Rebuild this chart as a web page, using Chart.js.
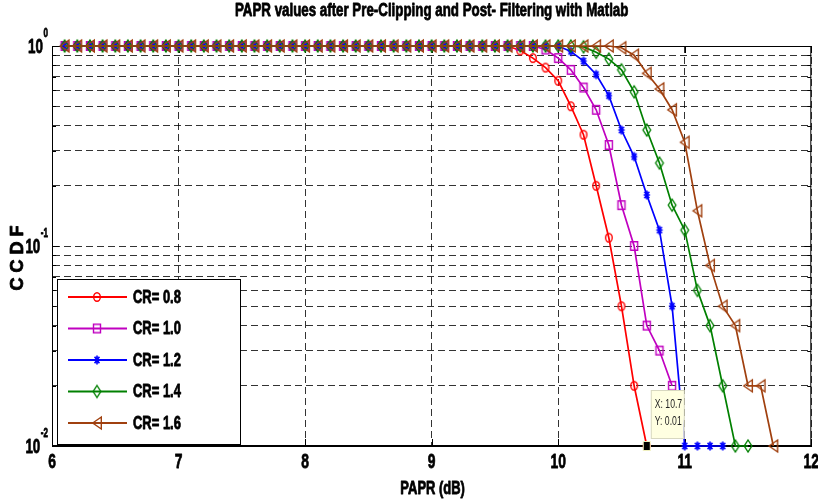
<!DOCTYPE html>
<html>
<head>
<meta charset="utf-8">
<script src="https://cdn.jsdelivr.net/npm/chart.js@4.4.1/dist/chart.umd.min.js"></script>
<style>
  html, body { margin: 0; padding: 0; background: #fff; }
  #wrap { width: 818px; height: 499px; }
</style>
</head>
<body>
<div id="wrap"><canvas id="papr" width="818" height="499"></canvas></div>
<script>
const FONT = '"Liberation Sans", Arial, sans-serif';

// x values (PAPR in dB), one per point
const paprDb = [
  6.1, 6.2, 6.3, 6.4, 6.5, 6.6, 6.7, 6.8, 6.9, 7.0,
  7.1, 7.2, 7.3, 7.4, 7.5, 7.6, 7.7, 7.8, 7.9, 8.0,
  8.1, 8.2, 8.3, 8.4, 8.5, 8.6, 8.7, 8.8, 8.9, 9.0,
  9.1, 9.2, 9.3, 9.4, 9.5, 9.6, 9.7, 9.8, 9.9, 10.0,
  10.1, 10.2, 10.3, 10.4, 10.5, 10.6, 10.7, 10.8, 10.9, 11.0,
  11.1, 11.2, 11.3, 11.4, 11.5, 11.6, 11.7
];

const seriesLabels = ['CR= 0.8', 'CR= 1.0', 'CR= 1.2', 'CR= 1.4', 'CR= 1.6'];
const seriesColors = ['#ff0000', '#c000c0', '#0000ff', '#008000', '#a0400f'];
const seriesMarkers = ['circle', 'square', 'star', 'diamond', 'triangle'];

// CCDF values, starting at 6.1 dB
const cr08 = [
  1, 1, 1, 1, 1, 1, 1, 1, 1, 1,
  1, 1, 1, 1, 1, 1, 1, 1, 1, 1,
  1, 1, 1, 1, 1, 1, 1, 1, 1, 1,
  1, 1, 1, 1, 1, 1, 0.95, 0.87, 0.78, 0.67,
  0.50, 0.36, 0.20, 0.11, 0.05, 0.02, 0.01
];
const cr10 = [
  1, 1, 1, 1, 1, 1, 1, 1, 1, 1,
  1, 1, 1, 1, 1, 1, 1, 1, 1, 1,
  1, 1, 1, 1, 1, 1, 1, 1, 1, 1,
  1, 1, 1, 1, 1, 1, 1, 1, 0.96, 0.87,
  0.76, 0.62, 0.48, 0.32, 0.16, 0.10, 0.04, 0.03, 0.02
];
const cr12 = [
  1, 1, 1, 1, 1, 1, 1, 1, 1, 1,
  1, 1, 1, 1, 1, 1, 1, 1, 1, 1,
  1, 1, 1, 1, 1, 1, 1, 1, 1, 1,
  1, 1, 1, 1, 1, 1, 1, 1, 1, 1,
  0.94, 0.84, 0.72, 0.565, 0.38, 0.28, 0.18, 0.12, 0.05, 0.01,
  0.01, 0.01, 0.01
];
const cr14 = [
  1, 1, 1, 1, 1, 1, 1, 1, 1, 1,
  1, 1, 1, 1, 1, 1, 1, 1, 1, 1,
  1, 1, 1, 1, 1, 1, 1, 1, 1, 1,
  1, 1, 1, 1, 1, 1, 1, 1, 1, 1,
  1, 0.99, 0.93, 0.86, 0.76, 0.59, 0.38, 0.26, 0.16, 0.12,
  0.06, 0.04, 0.02, 0.01, 0.01
];
const cr16 = [
  1, 1, 1, 1, 1, 1, 1, 1, 1, 1,
  1, 1, 1, 1, 1, 1, 1, 1, 1, 1,
  1, 1, 1, 1, 1, 1, 1, 1, 1, 1,
  1, 1, 1, 1, 1, 1, 1, 1, 1, 1,
  1, 1, 1, 1, 0.98, 0.90, 0.73, 0.61, 0.48, 0.33,
  0.15, 0.08, 0.05, 0.04, 0.02, 0.02, 0.01
];

const xTickValues = [6, 7, 8, 9, 10, 11, 12];
const yTickValues = [
  0.01, 0.02, 0.03, 0.04, 0.05, 0.06, 0.07, 0.08, 0.09,
  0.1, 0.2, 0.3, 0.4, 0.5, 0.6, 0.7, 0.8, 0.9, 1
];
const yMajorTicks = [1, 0.1, 0.01];
const yMajorExp = ['0', '-1', '-2'];

const chartTitle = 'PAPR values after Pre-Clipping and Post- Filtering with Matlab';
const xTitle = 'PAPR (dB)';
const yTitle = 'C C D F';

// data tip shown on the CR= 0.8 curve
const tipX = 10.7;
const tipY = 0.01;

// Matlab style open markers, a bit taller than wide like the stretched figure
function makeMarker(kind, color) {
  const c = document.createElement('canvas');
  c.width = 14; c.height = 16;
  const g = c.getContext('2d');
  const cx = 7, cy = 8;
  g.strokeStyle = color;
  g.lineWidth = 1.4;
  g.beginPath();
  if (kind === 'circle') {
    g.ellipse(cx, cy, 3.3, 4.3, 0, 0, Math.PI * 2);
  } else if (kind === 'square') {
    g.rect(cx - 3.5, cy - 4.3, 7, 8.6);
  } else if (kind === 'star') {
    g.lineWidth = 1.6;
    g.moveTo(cx, cy - 4.5); g.lineTo(cx, cy + 4.5);
    g.moveTo(cx - 3.2, cy); g.lineTo(cx + 3.2, cy);
    g.moveTo(cx - 2.4, cy - 3.2); g.lineTo(cx + 2.4, cy + 3.2);
    g.moveTo(cx + 2.4, cy - 3.2); g.lineTo(cx - 2.4, cy + 3.2);
  } else if (kind === 'diamond') {
    g.moveTo(cx, cy - 6); g.lineTo(cx + 3.8, cy);
    g.lineTo(cx, cy + 6); g.lineTo(cx - 3.8, cy);
    g.closePath();
  } else if (kind === 'triangle') {
    g.moveTo(cx - 4.3, cy); g.lineTo(cx + 4.3, cy - 6);
    g.lineTo(cx + 4.3, cy + 6);
    g.closePath();
  }
  g.stroke();
  return c;
}

// condensed bold text, like the Arial Narrow of the figure
function narrowText(ctx, text, x, y, size, align, opts) {
  const o = opts || {};
  const sx = o.sx || 0.72;
  const weight = o.weight || 'bold';
  ctx.save();
  ctx.translate(x, y);
  if (o.rotate) ctx.rotate(o.rotate);
  ctx.scale(sx, 1);
  ctx.font = weight + ' ' + size + 'px ' + FONT;
  ctx.fillStyle = o.color || '#000';
  ctx.strokeStyle = o.color || '#000';
  ctx.textAlign = align;
  ctx.textBaseline = 'middle';
  ctx.fillText(text, 0, 0);
  if (weight === 'bold') {
    ctx.lineWidth = 0.8;
    ctx.lineJoin = 'round';
    ctx.strokeText(text, 0, 0);
  }
  const w = ctx.measureText(text).width * sx;
  ctx.restore();
  return w;
}

function makeSet(i, values) {
  return {
    label: seriesLabels[i],
    data: values.map((v, k) => ({ x: paprDb[k], y: v })),
    borderColor: seriesColors[i],
    backgroundColor: 'rgba(0,0,0,0)',
    borderWidth: 1.7,
    pointStyle: makeMarker(seriesMarkers[i], seriesColors[i]),
    pointRadius: 5,
    tension: 0,
    clip: false,
    order: 5 - i
  };
}

const matlabFrame = {
  id: 'matlabFrame',
  beforeDatasetsDraw(chart) {
    const { ctx, chartArea: ca, scales } = chart;
    ctx.save();
    ctx.strokeStyle = '#000';
    ctx.lineWidth = 1;
    ctx.strokeRect(ca.left + 0.5, ca.top + 0.5, ca.right - ca.left - 1, ca.bottom - ca.top - 1);
    ctx.beginPath();
    xTickValues.forEach(v => {
      const x = Math.round(scales.x.getPixelForValue(v)) + 0.5;
      ctx.moveTo(x, ca.bottom); ctx.lineTo(x, ca.bottom - 7);
      ctx.moveTo(x, ca.top); ctx.lineTo(x, ca.top + 7);
    });
    yTickValues.forEach(v => {
      const y = Math.round(scales.y.getPixelForValue(v)) + 0.5;
      const len = yMajorTicks.includes(v) ? 7 : 4;
      ctx.moveTo(ca.left, y); ctx.lineTo(ca.left + len, y);
      ctx.moveTo(ca.right, y); ctx.lineTo(ca.right - len, y);
    });
    ctx.stroke();
    ctx.restore();
  },
  afterDraw(chart) {
    const { ctx, chartArea: ca, scales } = chart;
    const midX = (ca.left + ca.right) / 2;

    // titles
    narrowText(ctx, chartTitle, midX, 11, 18, 'center', { sx: 0.74 });
    narrowText(ctx, xTitle, midX + 1, ca.bottom + 43, 18, 'center');
    narrowText(ctx, yTitle, 18.5, (ca.top + ca.bottom) / 2 + 12, 18, 'center', { rotate: -Math.PI / 2, sx: 1 });

    // x tick labels
    xTickValues.forEach(v => {
      narrowText(ctx, String(v), scales.x.getPixelForValue(v), ca.bottom + 16, 21, 'center', { sx: 0.66 });
    });

    // y tick labels as powers of ten
    yMajorTicks.forEach((v, i) => {
      const y = scales.y.getPixelForValue(v);
      const ex = ca.left - 4;
      const w = narrowText(ctx, yMajorExp[i], ex, y - 13, 13, 'right', { sx: 0.62 });
      narrowText(ctx, '10', ex - w - 0.5, y + 1, 21, 'right', { sx: 0.64 });
    });

    ctx.save();
    // legend box
    const bx = ca.left + 5, by = ca.bottom - 167, bw = 183, bh = 165;
    ctx.fillStyle = '#fff';
    ctx.fillRect(bx, by, bw, bh);
    ctx.strokeStyle = '#000';
    ctx.lineWidth = 1;
    ctx.strokeRect(bx + 0.5, by + 0.5, bw, bh);
    chart.data.datasets.forEach((ds, i) => {
      const y = by + 18 + i * 31.5;
      ctx.strokeStyle = ds.borderColor;
      ctx.lineWidth = 2;
      ctx.beginPath();
      ctx.moveTo(bx + 11, y); ctx.lineTo(bx + 70, y);
      ctx.stroke();
      const m = ds.pointStyle;
      ctx.drawImage(m, bx + 40 - m.width / 2, y - m.height / 2);
      narrowText(ctx, ds.label, bx + 76, y + 1, 18, 'left');
    });

    // data tip
    const px = scales.x.getPixelForValue(tipX);
    const py = scales.y.getPixelForValue(tipY);
    const tx = px + 4, ty = py - 56;
    ctx.fillStyle = '#ffffe1';
    ctx.fillRect(tx, ty, 33, 48);
    ctx.strokeStyle = '#d8d8c0';
    ctx.lineWidth = 1;
    ctx.strokeRect(tx + 0.5, ty + 0.5, 33, 48);
    narrowText(ctx, 'X: ' + tipX, tx + 4, ty + 15, 12, 'left', { weight: 'normal', color: '#222' });
    narrowText(ctx, 'Y: ' + tipY.toFixed(2), tx + 4, ty + 32, 12, 'left', { weight: 'normal', color: '#222' });
    ctx.fillStyle = '#f0f0c0';
    ctx.fillRect(px - 4, py - 5, 8, 10);
    ctx.fillStyle = '#000';
    ctx.fillRect(px - 3, py - 4, 6, 8);
    ctx.restore();
  }
};

const gridStyle = { color: 'rgba(0,0,0,0.8)', lineWidth: 1, drawTicks: false };
const borderStyle = { display: true, color: '#000', width: 1, dash: [7, 4] };

new Chart(document.getElementById('papr'), {
  type: 'line',
  data: {
    datasets: [
      makeSet(0, cr08),
      makeSet(1, cr10),
      makeSet(2, cr12),
      makeSet(3, cr14),
      makeSet(4, cr16)
    ]
  },
  options: {
    responsive: false,
    animation: false,
    devicePixelRatio: 1,
    layout: { padding: { left: 0, right: 3, top: 46, bottom: 0 } },
    plugins: {
      legend: { display: false },
      tooltip: { enabled: false },
      title: { display: false }
    },
    scales: {
      x: {
        type: 'linear',
        min: 6,
        max: 12,
        afterBuildTicks: s => { s.ticks = xTickValues.map(v => ({ value: v })); },
        afterFit: s => { s.height = 53; s.paddingLeft = 0; s.paddingRight = 0; },
        ticks: { display: false },
        grid: gridStyle,
        border: borderStyle
      },
      y: {
        type: 'logarithmic',
        min: 0.01,
        max: 1,
        afterBuildTicks: s => { s.ticks = yTickValues.map(v => ({ value: v })); },
        afterFit: s => { s.width = 52; s.paddingTop = 0; s.paddingBottom = 0; },
        ticks: { display: false },
        grid: gridStyle,
        border: borderStyle
      }
    }
  },
  plugins: [matlabFrame]
});
</script>
</body>
</html>
